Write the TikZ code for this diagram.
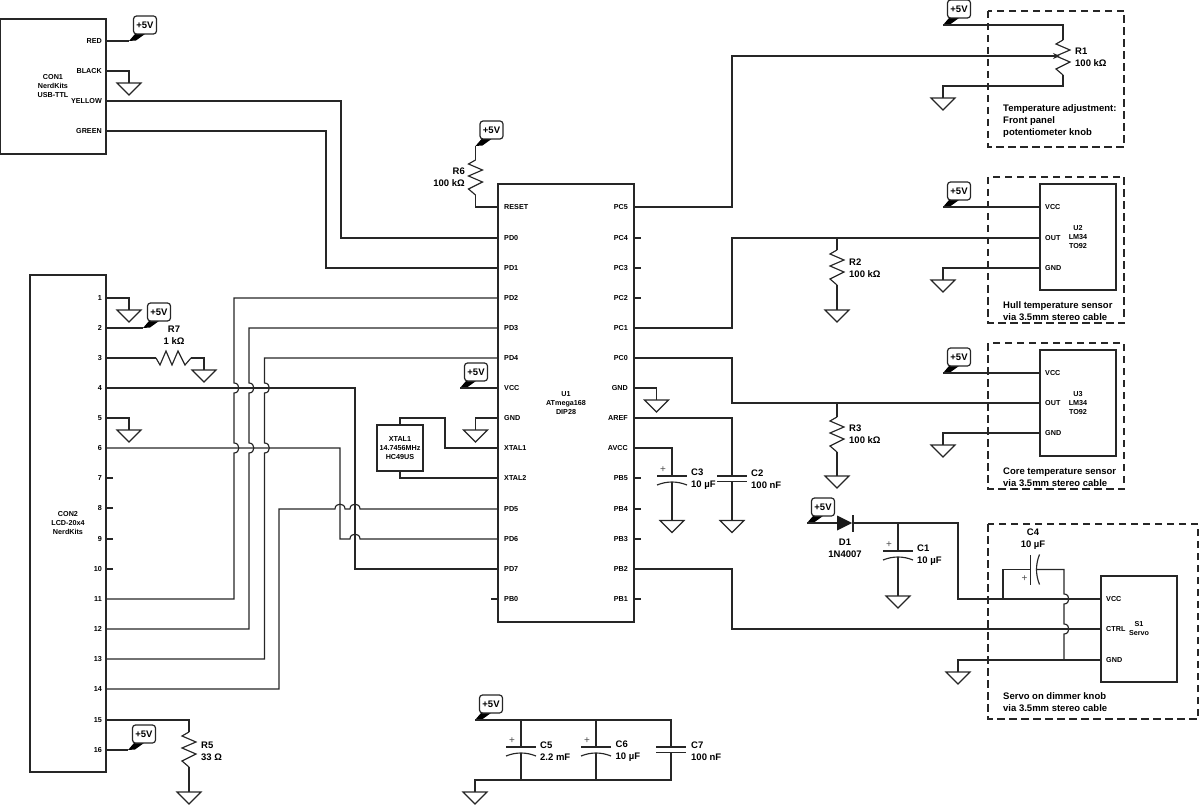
\documentclass[tikz,border=0pt]{standalone}
\usepackage{fontspec}
\setmainfont{Liberation Sans}
\usetikzlibrary{arrows.meta,positioning}

% jumps of a wire over another one
\def\hopv(#1,#2){-- (#1,#2-5) .. controls (#1+6.5,#2-5) and (#1+6.5,#2+5) .. (#1,#2+5)}
\def\hoph(#1,#2){-- (#1-5,#2) .. controls (#1-5,#2-6.5) and (#1+5,#2-6.5) .. (#1+5,#2)}

\tikzset{
  wire/.style={line width=1.15pt,draw=black!85,line join=miter},
  part/.style={draw=black!85,line width=1.3pt,inner sep=0pt,align=center,
    font=\fontsize{7.2}{9}\selectfont\bfseries},
  dashbox/.style={draw=black!85,line width=1.3pt,dash pattern=on 7.5pt off 4.5pt},
  pinl/.style={inner sep=0pt,font=\fontsize{7.2}{9}\selectfont\bfseries},
  val/.style={inner sep=0pt,font=\fontsize{9.5}{12}\selectfont\bfseries},
  plusm/.style={inner sep=0pt,text=black!70,font=\fontsize{10}{10}\selectfont},
  pics/gnd/.style={code={
    \coordinate (-t) at (0,0);
    \draw[wire] (-12,0) -- (12,0) -- (0,12) -- cycle;
  }},
  pics/vflag/.style={code={
    \coordinate (-t) at (0,0);
    \fill[black] (0,0) -- (6,-7) -- (16,-7) -- (7,-0.5) -- cycle;
    \node[draw=black!85,line width=1.2pt,rounded corners=3pt,fill=white,minimum width=23pt,
      minimum height=18pt,inner sep=0pt,font=\fontsize{9.5}{10}\selectfont\bfseries] (-box) at (16,-16) {+5V};
  }},
  pics/res/.style={code={
    \coordinate (-a) at (0,0);
    \coordinate (-b) at (0,35);
    \draw[wire] (-a) -- (-7,4) -- (7,10) -- (-7,16) -- (7,22) -- (-7,29) -- (-b);
  }},
  pics/polcap/.style={code={
    \coordinate (-a) at (0,0);
    \coordinate (-b) at (0,6);
    \draw[wire] (-15,0) -- (15,0);
    \draw[wire] (-15,9) .. controls (-5,5) and (5,5) .. (15,9);
    \node[plusm] (-p) at (-9,-6) {+};
  }},
  pics/cap/.style={code={
    \coordinate (-a) at (0,0);
    \coordinate (-b) at (0,5.5);
    \draw[wire] (-15,0) -- (15,0);
    \draw[wire] (-15,5.5) -- (15,5.5);
  }},
}

\begin{document}
\begin{tikzpicture}[x=1pt,y=-1pt]
\useasboundingbox (0,0) rectangle (1200,805);

% Panels
\draw[dashbox] (988,11) rectangle (1124,147);
\draw[dashbox] (988,177) rectangle (1124,323);
\draw[dashbox] (988,343) rectangle (1124,489);
\draw[dashbox] (988,524) rectangle (1198,719);
\node[val,anchor=west,align=left] (capr1) at (1003,121) {Temperature adjustment:\\Front panel\\potentiometer knob};
\node[val,anchor=west,align=left] (capu2) at (1003,311) {Hull temperature sensor\\via 3.5mm stereo cable};
\node[val,anchor=west,align=left] (capu3) at (1003,477) {Core temperature sensor\\via 3.5mm stereo cable};
\node[val,anchor=west,align=left] (caps1) at (1003,702) {Servo on dimmer knob\\via 3.5mm stereo cable};

% Parts
\node[part,minimum width=106pt,minimum height=135pt] (con1) at (53,86.5) {CON1\\NerdKits\\USB-TTL};
\node[part,minimum width=76pt,minimum height=497pt] (con2) at (68,523.5) {CON2\\LCD-20x4\\NerdKits};
\node[part,minimum width=136pt,minimum height=438pt] (u1) at (566,403) {U1\\ATmega168\\DIP28};
\node[part,minimum width=46pt,minimum height=46pt] (xtal) at (400,448) {XTAL1\\14.7456MHz\\HC49US};
\node[part,minimum width=76pt,minimum height=106pt] (u2) at (1078,237) {U2\\LM34\\TO92};
\node[part,minimum width=76pt,minimum height=106pt] (u3) at (1078,403) {U3\\LM34\\TO92};
\node[part,minimum width=76pt,minimum height=106pt] (s1) at (1139,629) {S1\\Servo};

% Pins
\foreach \pn/\tx/\py in {red/RED/41,black/BLACK/71,yellow/YELLOW/101,green/GREEN/131} {
  \coordinate (\pn) at (106,\py);
  \node[pinl,anchor=east] (l\pn) at (102,\py) {\tx};
}
\foreach \tx/\py in {1/298,2/328,3/358,4/388,5/418,6/448,7/478,8/508,9/539,10/569,11/599,12/629,13/659,14/689,15/720,16/750} {
  \coordinate (p\tx) at (106,\py);
  \node[pinl,anchor=east] (lp\tx) at (102,\py) {\tx};
}
\foreach \pn/\tx/\py in {reset/RESET/207,pd0/PD0/238,pd1/PD1/268,pd2/PD2/298,pd3/PD3/328,pd4/PD4/358,vcc/VCC/388,ugnd/GND/418,xt1/XTAL1/448,xt2/XTAL2/478,pd5/PD5/509,pd6/PD6/539,pd7/PD7/569,pb0/PB0/599} {
  \coordinate (\pn) at (498,\py);
  \node[pinl,anchor=west] (l\pn) at (504,\py) {\tx};
}
\foreach \pn/\tx/\py in {pc5/PC5/207,pc4/PC4/238,pc3/PC3/268,pc2/PC2/298,pc1/PC1/328,pc0/PC0/358,ugndb/GND/388,aref/AREF/418,avcc/AVCC/448,pb5/PB5/478,pb4/PB4/509,pb3/PB3/539,pb2/PB2/569,pb1/PB1/599} {
  \coordinate (\pn) at (634,\py);
  \node[pinl,anchor=east] (l\pn) at (628,\py) {\tx};
}
\foreach \pn/\tx/\py in {u2v/VCC/207,u2o/OUT/238,u2g/GND/268,u3v/VCC/373,u3o/OUT/403,u3g/GND/433} {
  \coordinate (\pn) at (1040,\py);
  \node[pinl,anchor=west] (l\pn) at (1045,\py) {\tx};
}
\foreach \pn/\tx/\py in {s1v/VCC/599,s1c/CTRL/629,s1g/GND/660} {
  \coordinate (\pn) at (1101,\py);
  \node[pinl,anchor=west] (l\pn) at (1106,\py) {\tx};
}

% Unused pins
\foreach \pn in {p7,p8,p9,p10,pc4,pc3,pc2,pb5,pb4,pb3,pb1}
  \draw[wire] (\pn) -- ++(7,0);
\draw[wire] (pb0) -- ++(-7,0);

% Supply flags
\pic (f1) at (129,41) {vflag};
\pic (f2) at (143,328) {vflag};
\pic (f3) at (128,750) {vflag};
\pic (f4) at (475.5,146) {vflag};
\pic (f5) at (460,388) {vflag};
\pic (f6) at (475,720) {vflag};
\pic (f7) at (943,25) {vflag};
\pic (f8) at (943,207) {vflag};
\pic (f9) at (943,373) {vflag};
\pic (f10) at (807,523) {vflag};

% Grounds
\pic (g1) at (129,83) {gnd};
\pic (g2) at (129,310) {gnd};
\pic (g3) at (204,370) {gnd};
\pic (g4) at (129,430) {gnd};
\pic (g5) at (189,792) {gnd};
\pic (g6) at (475.5,430) {gnd};
\pic (g7) at (656.5,400) {gnd};
\pic (g8) at (672,520.5) {gnd};
\pic (g9) at (732,520.5) {gnd};
\pic (g10) at (943,98) {gnd};
\pic (g11) at (837,310) {gnd};
\pic (g12) at (943,280) {gnd};
\pic (g13) at (943,445) {gnd};
\pic (g14) at (837,476) {gnd};
\pic (g15) at (898,596) {gnd};
\pic (g16) at (958,672) {gnd};
\pic (g17) at (475,792) {gnd};

% Resistors
\pic (r1) at (1063,40) {res};
\pic (r2) at (837,250) {res};
\pic (r3) at (837,417) {res};
\pic (r5) at (189,732) {res};
\pic (r6) at (475.5,160) {res};
\pic[rotate=90] (r7) at (156,358) {res};
\node[val,anchor=west,align=left] (lr1) at (1075,57) {R1\\100 k\symbol{"03A9}};
\node[val,anchor=west,align=left] (lr2) at (849,268) {R2\\100 k\symbol{"03A9}};
\node[val,anchor=west,align=left] (lr3) at (849,434) {R3\\100 k\symbol{"03A9}};
\node[val,anchor=west,align=left] (lr5) at (201,751) {R5\\33 \symbol{"03A9}};
\node[val,anchor=east,align=right] (lr6) at (465,177.5) {R6\\100 k\symbol{"03A9}};
\node[val,align=center] (lr7) at (174,335) {R7\\1 k\symbol{"03A9}};

% Capacitors
\pic (c1) at (898,551) {polcap};
\pic (c2) at (732,476) {cap};
\pic (c3) at (672,476) {polcap};
\pic[rotate=90] (c4) at (1030.5,569.5) {polcap};
\pic (c5) at (521,747) {polcap};
\pic (c6) at (596,747) {polcap};
\pic (c7) at (671,747) {cap};
\node[val,anchor=west,align=left] (lc1) at (917,555) {C1\\10 \symbol{"00B5}F};
\node[val,anchor=west,align=left] (lc2) at (751,479) {C2\\100 nF};
\node[val,anchor=west,align=left] (lc3) at (691,479) {C3\\10 \symbol{"00B5}F};
\node[val,align=center] (lc4) at (1033,539) {C4\\10 \symbol{"00B5}F};
\node[val,anchor=west,align=left] (lc5) at (540,751) {C5\\2.2 mF};
\node[val,anchor=west,align=left] (lc6) at (615.5,751) {C6\\10 \symbol{"00B5}F};
\node[val,anchor=west,align=left] (lc7) at (691,751) {C7\\100 nF};

% Diode
\coordinate (d1a) at (837,523);
\coordinate (d1k) at (853,523);
\fill[black!90] (837,515.5) -- (852,523) -- (837,530.5) -- cycle;
\draw[wire] (853,515) -- (853,531.5);
\node[val,align=center] (ld1) at (845,548) {D1\\1N4007};

% Wires at CON1
\draw[wire] (red) -- (f1-t);
\draw[wire] (black) -| (g1-t);
\draw[wire] (yellow) -| (341,238) -- (pd0);
\draw[wire] (green) -| (326,268) -- (pd1);

% Wires at CON2
\draw[wire] (p1) -| (g2-t);
\draw[wire] (p2) -- (f2-t);
\draw[wire] (p3) -- (r7-a);
\draw[wire] (r7-b) -| (g3-t);
\draw[wire] (p5) -| (g4-t);
\draw[wire] (p4) -| (355,569) -- (pd7);
\draw[wire] (p6) -| (340,539) \hoph(355,539) -- (pd6);
\draw[wire] (pd2) -- (234,298) \hopv(234,388) \hopv(234,448) -- (234,599) -- (p11);
\draw[wire] (pd3) -- (249,328) \hopv(249,388) \hopv(249,448) -- (249,629) -- (p12);
\draw[wire] (pd4) -- (264.5,358) \hopv(264.5,388) \hopv(264.5,448) -- (264.5,659) -- (p13);
\draw[wire] (p14) -- (279,689) -- (279,509) \hoph(340,509) \hoph(355,509) -- (pd5);
\draw[wire] (p15) -| (r5-a);
\draw[wire] (r5-b) -- (g5-t);
\draw[wire] (p16) -- (f3-t);

% Wires at U1
\draw[wire] (f4-t) -- (r6-a);
\draw[wire] (r6-b) |- (reset);
\draw[wire] (f5-t) -- (vcc);
\draw[wire] (ugnd) -| (g6-t);
\draw[wire] (xt1) -- (445,448) -- (445,418) -| (xtal.north);
\draw[wire] (xt2) -| (xtal.south);
\draw[wire] (ugndb) -| (g7-t);
\draw[wire] (avcc) -| (c3-a);
\draw[wire] (c3-b) -- (g8-t);
\draw[wire] (aref) -| (c2-a);
\draw[wire] (c2-b) -- (g9-t);

% Wires at R1, U2, U3
\coordinate (r1w) at (1060,56);
\draw[wire,-{Stealth[length=7pt,width=6pt]}] (pc5) -| (732,56) -- (r1w);
\draw[wire] (f7-t) -| (r1-a);
\draw[wire] (r1-b) -- (1063,86) -| (g10-t);
\draw[wire] (f8-t) -- (u2v);
\draw[wire] (pc1) -| (732,238) -- (u2o);
\draw[wire] (837,238) -- (r2-a);
\draw[wire] (r2-b) -- (g11-t);
\draw[wire] (u2g) -| (g12-t);
\draw[wire] (f9-t) -- (u3v);
\draw[wire] (pc0) -| (732,403) -- (u3o);
\draw[wire] (837,403) -- (r3-a);
\draw[wire] (r3-b) -- (g14-t);
\draw[wire] (u3g) -| (g13-t);

% Wires at the servo
\draw[wire] (f10-t) -- (d1a);
\draw[wire] (d1k) -| (958,599) -- (s1v);
\draw[wire] (898,523) -- (c1-a);
\draw[wire] (c1-b) -- (g15-t);
\draw[wire] (pb2) -| (732,629) -- (s1c);
\draw[wire] (s1g) -| (g16-t);
\draw[wire] (1003,599) |- (c4-a);
\draw[wire] (c4-b) -- (1064,569.5) \hopv(1064,599) \hopv(1064,629) -- (1064,660);

% Decoupling bank
\draw[wire] (f6-t) -- (671,720) -- (c7-a);
\draw[wire] (521,720) -- (c5-a);
\draw[wire] (596,720) -- (c6-a);
\draw[wire] (c5-b) -- (521,780);
\draw[wire] (c6-b) -- (596,780);
\draw[wire] (c7-b) -- (671,780) -| (g17-t);
\end{tikzpicture}
\end{document}
